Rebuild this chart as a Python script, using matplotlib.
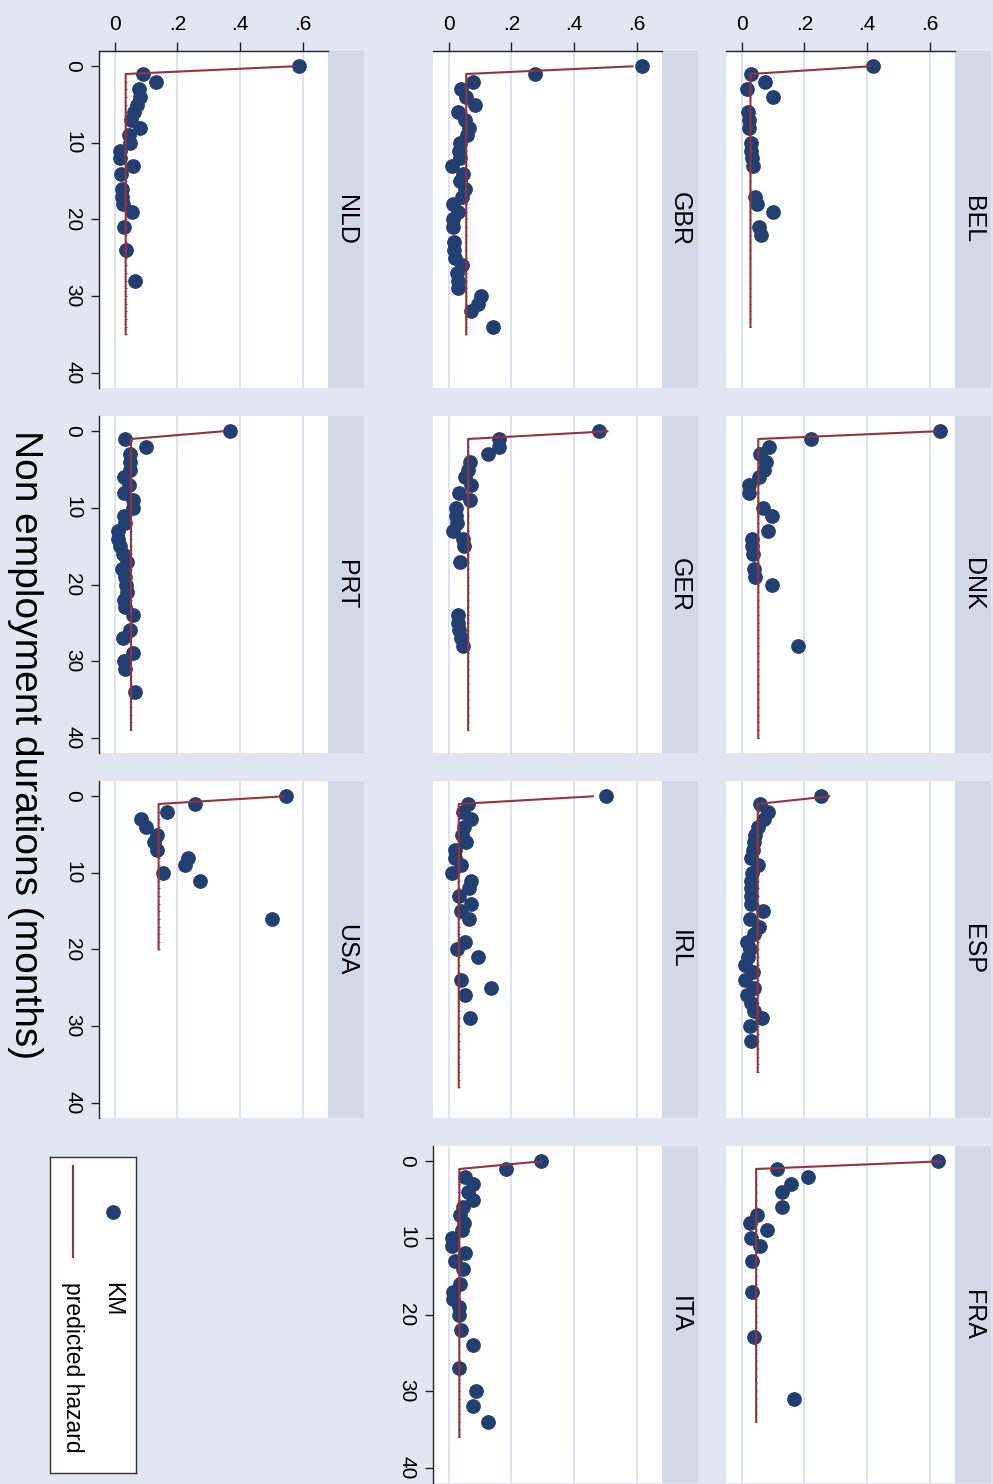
import matplotlib
matplotlib.use('Agg')
import matplotlib.pyplot as plt
from matplotlib.patches import Rectangle

plt.rcParams['font.family'] = ['Liberation Sans', 'DejaVu Sans']

# ---------------- data ----------------
countries = ['BEL', 'DNK', 'ESP', 'FRA', 'GBR', 'GER', 'IRL', 'ITA', 'NLD', 'PRT', 'USA']

bel_t = [0, 1, 2, 3, 4, 6, 7, 8, 10, 11, 12, 13, 17, 18, 19, 21, 22]
bel_km = [0.42, 0.029, 0.073, 0.016, 0.10, 0.021, 0.022, 0.023, 0.029, 0.031, 0.034,
          0.035, 0.043, 0.048, 0.10, 0.055, 0.063]

dnk_t = [0, 1, 2, 3, 4, 5, 6, 7, 8, 10, 11, 13, 14, 15, 16, 18, 19, 20, 28]
dnk_km = [0.631, 0.221, 0.086, 0.059, 0.077, 0.070, 0.056, 0.022, 0.022, 0.067, 0.097,
          0.085, 0.032, 0.032, 0.035, 0.038, 0.043, 0.097, 0.181]

esp_t = [0, 1, 2, 3, 4, 5, 6, 7, 8, 9, 10, 11, 12, 13, 14, 15, 16, 17, 18, 19, 20,
         21, 22, 23, 24, 25, 26, 27, 28, 29, 30, 32]
esp_km = [0.254, 0.059, 0.083, 0.072, 0.051, 0.043, 0.038, 0.035, 0.030, 0.053, 0.032,
          0.030, 0.030, 0.030, 0.030, 0.067, 0.028, 0.056, 0.038, 0.017, 0.028, 0.019,
          0.012, 0.035, 0.012, 0.038, 0.017, 0.030, 0.038, 0.064, 0.028, 0.030]

fra_t = [0, 1, 2, 3, 4, 6, 7, 8, 9, 10, 11, 13, 17, 23, 31]
fra_km = [0.626, 0.112, 0.210, 0.157, 0.130, 0.128, 0.049, 0.028, 0.081, 0.030, 0.059,
          0.032, 0.033, 0.040, 0.168]

gbr_t = [0, 1, 2, 3, 4, 5, 6, 7, 8, 9, 10, 11, 12, 13, 14, 15, 16, 17, 18, 19, 20,
         21, 23, 24, 25, 26, 27, 28, 29, 30, 31, 32, 34]
gbr_km = [0.615, 0.275, 0.077, 0.040, 0.056, 0.085, 0.029, 0.053, 0.064, 0.059, 0.037,
          0.034, 0.037, 0.011, 0.046, 0.037, 0.053, 0.043, 0.014, 0.030, 0.015, 0.015,
          0.017, 0.017, 0.019, 0.043, 0.025, 0.029, 0.030, 0.104, 0.093, 0.071, 0.142]

ger_t = [0, 1, 2, 3, 4, 5, 6, 7, 8, 9, 10, 11, 12, 13, 14, 15, 17, 24, 25, 26, 27, 28]
ger_km = [0.479, 0.160, 0.160, 0.126, 0.067, 0.062, 0.053, 0.071, 0.032, 0.069, 0.023,
          0.024, 0.027, 0.014, 0.045, 0.048, 0.035, 0.029, 0.029, 0.034, 0.039, 0.045]

irl_t = [0, 1, 2, 3, 4, 5, 6, 7, 8, 9, 10, 11, 12, 13, 14, 15, 16, 19, 20, 21, 24,
         25, 26, 29]
irl_km = [0.503, 0.061, 0.046, 0.071, 0.050, 0.043, 0.055, 0.021, 0.021, 0.040, 0.011,
          0.072, 0.064, 0.032, 0.072, 0.038, 0.066, 0.051, 0.027, 0.094, 0.039, 0.135,
          0.051, 0.069]

ita_t = [0, 1, 2, 3, 4, 5, 6, 7, 8, 9, 10, 11, 12, 13, 14, 16, 17, 18, 19, 20, 22,
         24, 27, 30, 32, 34]
ita_km = [0.293, 0.184, 0.053, 0.077, 0.061, 0.079, 0.045, 0.036, 0.050, 0.041, 0.010,
          0.010, 0.052, 0.021, 0.045, 0.037, 0.015, 0.015, 0.032, 0.032, 0.039, 0.077,
          0.032, 0.087, 0.077, 0.124]

nld_t = [0, 1, 2, 3, 4, 5, 6, 7, 8, 9, 10, 11, 12, 13, 14, 16, 17, 18, 19, 21, 24, 28]
nld_km = [0.586, 0.090, 0.133, 0.076, 0.082, 0.071, 0.061, 0.052, 0.080, 0.045, 0.050,
          0.016, 0.018, 0.057, 0.020, 0.022, 0.023, 0.025, 0.055, 0.031, 0.037, 0.066]

prt_t = [0, 1, 2, 3, 4, 5, 6, 7, 8, 9, 10, 11, 12, 13, 14, 15, 16, 17, 18, 19, 20,
         21, 22, 23, 24, 26, 27, 29, 30, 31, 34]
prt_km = [0.368, 0.034, 0.100, 0.050, 0.050, 0.048, 0.029, 0.045, 0.031, 0.057, 0.057,
          0.031, 0.034, 0.010, 0.010, 0.016, 0.027, 0.039, 0.023, 0.034, 0.037, 0.039,
          0.031, 0.034, 0.057, 0.048, 0.027, 0.057, 0.031, 0.032, 0.066]

usa_t = [0, 1, 2, 3, 4, 5, 6, 7, 8, 9, 10, 11, 16]
usa_km = [0.547, 0.257, 0.167, 0.084, 0.101, 0.135, 0.124, 0.135, 0.234, 0.223, 0.154,
          0.273, 0.501]

# predicted hazard: value at month 0, constant value from month 1, last month
pred_h0 = [0.41, 0.618, 0.279, 0.636, 0.586, 0.506, 0.46, 0.295, 0.570, 0.345, 0.538]
pred_h1 = [0.028, 0.053, 0.051, 0.046, 0.056, 0.062, 0.032, 0.034, 0.035, 0.052, 0.140]
pred_end = [34, 40, 36, 34, 35, 39, 38, 36, 35, 39, 20]

km_t = [bel_t, dnk_t, esp_t, fra_t, gbr_t, ger_t, irl_t, ita_t, nld_t, prt_t, usa_t]
km_h = [bel_km, dnk_km, esp_km, fra_km, gbr_km, ger_km, irl_km, ita_km, nld_km, prt_km, usa_km]

hazard_ticks = [0, 0.2, 0.4, 0.6]
hazard_labels = ['0', '.2', '.4', '.6']
dur_ticks = [0, 10, 20, 30, 40]
dur_labels = ['0', '10', '20', '30', '40']

# ---------------- style ----------------
W, H = 993, 1484
BG = '#E2E6F0'
STRIP = '#D3D8E7'
GRID = '#DDE2EE'
NAVY = '#233F71'
MAROON = '#90353B'
AXC = '#222222'

fig = plt.figure(figsize=(W / 100, H / 100), dpi=100)
fig.patch.set_facecolor(BG)

col_x = [99, 433, 726]      # left edge (px) of plot region for each column
row_y = [51, 416, 781, 1146]  # top edge (px) of plot region for each row
PW, PH, SW = 229, 337, 36

# country -> (column, row)
placement = {'BEL': (2, 0), 'DNK': (2, 1), 'ESP': (2, 2), 'FRA': (2, 3),
             'GBR': (1, 0), 'GER': (1, 1), 'IRL': (1, 2), 'ITA': (1, 3),
             'NLD': (0, 0), 'PRT': (0, 1), 'USA': (0, 2)}


def fx(px):
    return px / W


def fy(py):
    return 1 - py / H


for i, c in enumerate(countries):
    col, row = placement[c]
    x0, y0 = col_x[col], row_y[row]
    ax = fig.add_axes([fx(x0), fy(y0 + PH), PW / W, PH / H])
    ax.set_facecolor('white')
    ax.set_xlim(-0.05, 0.68)
    ax.set_ylim(42, -2)
    ax.set_axisbelow(True)
    ax.set_xticks(hazard_ticks)
    ax.set_yticks(dur_ticks)
    ax.grid(axis='x', color=GRID, lw=1.4)
    ax.grid(axis='y', visible=False)
    for s in ax.spines.values():
        s.set_visible(False)

    show_top = (row == 0)
    show_left = (col == 0) or c == 'ITA'

    if show_top:
        ax.spines['top'].set_visible(True)
        ax.spines['top'].set_color(AXC)
        ax.spines['top'].set_linewidth(1.0)
        ax.xaxis.set_ticks_position('top')
        ax.set_xticklabels(hazard_labels)
        ax.tick_params(axis='x', top=True, bottom=False, labeltop=True, labelbottom=False,
                       length=6.5, width=1.0, pad=6, labelsize=15, color=AXC)
    else:
        ax.tick_params(axis='x', top=False, bottom=False, labeltop=False, labelbottom=False)

    if show_left:
        ax.spines['left'].set_visible(True)
        ax.spines['left'].set_color(AXC)
        ax.spines['left'].set_linewidth(1.0)
        ax.set_yticklabels(dur_labels)
        ax.tick_params(axis='y', left=True, labelleft=True, length=6, width=1.0,
                       pad=6, labelsize=15, color=AXC, labelrotation=-90)
        for lab in ax.get_yticklabels():
            lab.set_va('center')
    else:
        ax.tick_params(axis='y', left=False, labelleft=False)

    # KM estimates
    ax.plot(km_h[i], km_t[i], linestyle='none', marker='o', ms=9.6,
            color=NAVY, mec=NAVY, zorder=3, clip_on=False)
    # predicted hazard
    n_end = pred_end[i]
    p_t = list(range(0, n_end + 1))
    p_h = [pred_h0[i]] + [pred_h1[i]] * n_end
    ax.plot(p_h, p_t, color=MAROON, lw=1.5, marker='_', ms=1.6, mew=0.7,
            markevery=list(range(1, n_end + 1)), zorder=4)

    # strip with country name
    fig.add_artist(Rectangle((fx(x0 + PW), fy(y0 + PH)), SW / W, PH / H,
                             transform=fig.transFigure, facecolor=STRIP,
                             edgecolor='none', zorder=0))
    fig.text(fx(x0 + PW + SW / 2), fy(y0 + PH / 2), c, rotation=-90,
             ha='center', va='center', fontsize=18, color='black')

# overall duration title
fig.text(fx(25), fy(745), 'Non employment durations (months)', rotation=-90,
         ha='center', va='center', fontsize=28, color='black')

# legend box
lx0, ly0, lw_, lh_ = 50, 1157, 86, 316
lax = fig.add_axes([fx(lx0), fy(ly0 + lh_), lw_ / W, lh_ / H])
lax.set_facecolor('white')
lax.set_xlim(0, lw_)
lax.set_ylim(lh_, 0)
lax.set_xticks([])
lax.set_yticks([])
for s in lax.spines.values():
    s.set_color('#333333')
    s.set_linewidth(1.0)
lax.plot([63], [55], linestyle='none', marker='o', ms=9.6, color=NAVY)
lax.plot([23, 23], [9, 100], color=MAROON, lw=1.5)
lax.text(63, 125, 'KM', rotation=-90, ha='center', va='top', fontsize=16.5)
lax.text(22, 125, 'predicted hazard', rotation=-90, ha='center', va='top', fontsize=16.5)

fig.savefig('out.png', dpi=100, facecolor=BG)
